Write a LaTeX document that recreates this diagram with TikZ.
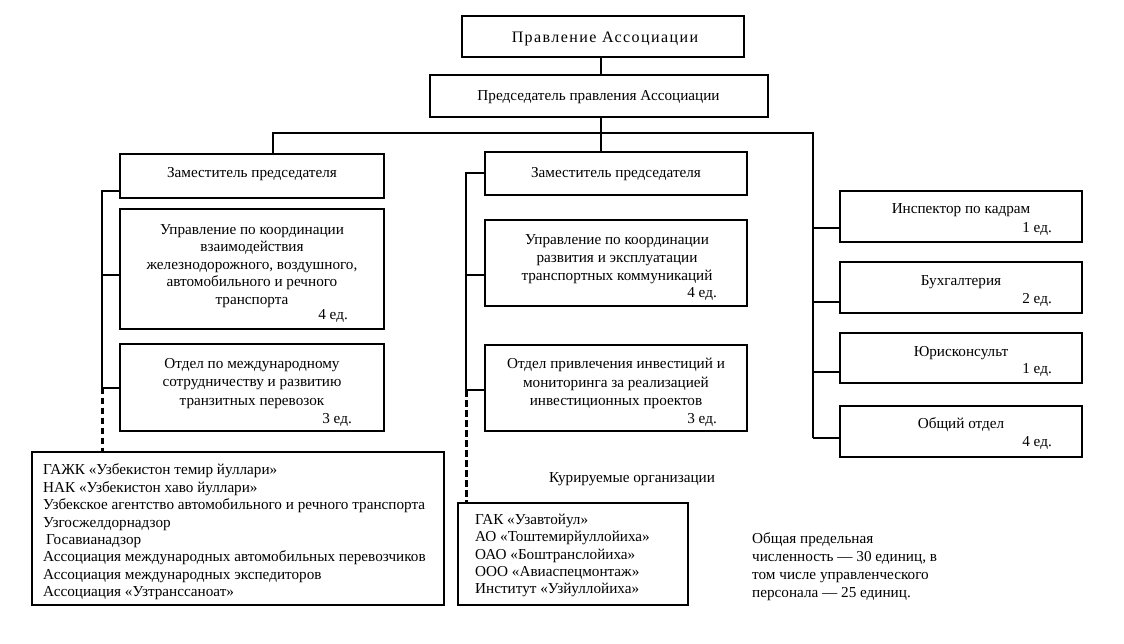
\documentclass[tikz,border=0pt]{standalone}
\usepackage{fontspec}
\setmainfont{Liberation Serif}
\begin{document}
\begin{tikzpicture}[x=1pt,y=-1pt,
  box/.style={draw,line width=2pt,inner sep=0pt,rectangle},
  conn/.style={line width=2pt},
  dconn/.style={line width=3pt,dash pattern=on 6.5pt off 3.5pt},
  txt/.style={inner sep=0pt,font=\fontsize{15.2}{17.5}\selectfont,align=center},
  ltxt/.style={inner sep=0pt,font=\fontsize{15.2}{17.4}\selectfont,align=left},
  unit/.style={inner sep=0pt,font=\fontsize{15.2}{17.5}\selectfont,anchor=east}]
\useasboundingbox (0,0) rectangle (1124,644);
\fill[white] (0,0) rectangle (1124,644);
% boxes
\node[box,minimum width=282pt,minimum height=41pt] (top) at (603,36.5) {};
\node[box,minimum width=338pt,minimum height=42pt] (chair) at (599,96) {};
\node[box,minimum width=264pt,minimum height=44pt] (ld) at (252,176) {};
\node[box,minimum width=264pt,minimum height=120pt] (l2) at (252,269) {};
\node[box,minimum width=264pt,minimum height=87pt] (l3) at (252,387.5) {};
\node[box,minimum width=262pt,minimum height=43pt] (md) at (616,173.5) {};
\node[box,minimum width=262pt,minimum height=86pt] (m2) at (616,263) {};
\node[box,minimum width=262pt,minimum height=86pt] (m3) at (616,388) {};
\node[box,minimum width=242pt,minimum height=51pt] (r1) at (961,216.5) {};
\node[box,minimum width=242pt,minimum height=51pt] (r2) at (961,287.5) {};
\node[box,minimum width=242pt,minimum height=50pt] (r3) at (961,358) {};
\node[box,minimum width=242pt,minimum height=51pt] (r4) at (961,431.5) {};
\node[box,minimum width=412pt,minimum height=153pt] (bl) at (238,528.5) {};
\node[box,minimum width=230pt,minimum height=102pt] (bm) at (573,554) {};
% texts
\node[txt,font=\fontsize{16}{18}\selectfont\addfontfeature{LetterSpace=9}] (ttop) at (605,39) {Правление Ассоциации};
\node[txt] (tchair) at (598.5,97) {Председатель правления Ассоциации};
\node[txt] (tld) at (252,174) {Заместитель председателя};
\node[txt] (tl2) at (252,266) {Управление по координации\\взаимодействия\\железнодорожного, воздушного,\\автомобильного и речного\\транспорта};
\node[unit] (ul2) at (348,316) {4 ед.};
\node[txt,font=\fontsize{15.2}{18.5}\selectfont] (tl3) at (252,383.5) {Отдел по международному\\сотрудничеству и развитию\\транзитных перевозок};
\node[unit] (ul3) at (352,420) {3 ед.};
\node[txt] (tmd) at (616,174) {Заместитель председателя};
\node[txt,font=\fontsize{15.2}{18}\selectfont] (tm2) at (617,259) {Управление по координации\\развития и эксплуатации\\транспортных коммуникаций};
\node[unit] (um2) at (717,294) {4 ед.};
\node[txt,font=\fontsize{15.2}{18.5}\selectfont] (tm3) at (616,383.5) {Отдел привлечения инвестиций и\\мониторинга за реализацией\\инвестиционных проектов};
\node[unit] (um3) at (717,420) {3 ед.};
\node[txt] (tr1) at (961,210) {Инспектор по кадрам};
\node[unit] (ur1) at (1052,229) {1 ед.};
\node[txt] (tr2) at (961,282) {Бухгалтерия};
\node[unit] (ur2) at (1052,300) {2 ед.};
\node[txt] (tr3) at (961,353) {Юрисконсульт};
\node[unit] (ur3) at (1052,370) {1 ед.};
\node[txt] (tr4) at (961,425) {Общий отдел};
\node[unit] (ur4) at (1052,443) {4 ед.};
\node[ltxt,anchor=west] (tbl) at (43,532) {ГАЖК «Узбекистон темир йуллари»\\НАК «Узбекистон хаво йуллари»\\Узбекское агентство автомобильного и речного транспорта\\Узгосжелдорнадзор\\\hspace*{3pt}Госавианадзор\\Ассоциация международных автомобильных перевозчиков\\Ассоциация международных экспедиторов\\Ассоциация «Узтранссаноат»};
\node[txt] (tkur) at (632,479) {Курируемые организации};
\node[ltxt,font=\fontsize{15.2}{17.25}\selectfont,anchor=west] (tbm) at (475,555.5) {ГАК «Узавтойул»\\АО «Тоштемирйуллойиха»\\ОАО «Боштранслойиха»\\ООО «Авиаспецмонтаж»\\Институт «Узйуллойиха»};
\node[ltxt,font=\fontsize{15.2}{18}\selectfont,anchor=west] (ttot) at (752,567) {Общая предельная\\численность — 30 единиц, в\\том числе управленческого\\персонала — 25 единиц.};
% coordinates
\coordinate (busc) at (601,133);
\coordinate (busL) at (273,133);
\coordinate (busR) at (813,133);
\coordinate (lsp) at (102,191);
\coordinate (msp) at (466,173);
\coordinate (ldb) at ([yshift=-15pt]ld.west);
\coordinate (l2b) at ([yshift=-6pt]l2.west);
\coordinate (l3b) at (l3.west);
\coordinate (mdb) at (md.west);
\coordinate (m2b) at ([yshift=-12pt]m2.west);
\coordinate (m3b) at ([yshift=-2pt]m3.west);
\coordinate (r1b) at ([yshift=-11.5pt]r1.west);
\coordinate (r2b) at ([yshift=-14.5pt]r2.west);
\coordinate (r3b) at ([yshift=-14pt]r3.west);
\coordinate (r4b) at ([yshift=-6.5pt]r4.west);
% connectors
\draw[conn] (top.south -| busc) -- (chair.north -| busc);
\draw[conn] (chair.south -| busc) -- (md.north -| busc);
\draw[conn] (ld.north -| busL) -- (busL) -- (busR) -- (r4b -| busR);
\draw[conn] (ldb) -- (ldb -| lsp) -- (l3b -| lsp);
\draw[conn] (l2b) -- (l2b -| lsp);
\draw[conn] (l3b) -- (l3b -| lsp);
\draw[dconn] (l3b -| lsp) -- (bl.north -| lsp);
\draw[conn] (mdb) -- (mdb -| msp) -- (m3b -| msp);
\draw[conn] (m2b) -- (m2b -| msp);
\draw[conn] (m3b) -- (m3b -| msp);
\draw[dconn] (m3b -| msp) -- (bm.north -| msp);
\draw[conn] (r1b) -- (r1b -| busR);
\draw[conn] (r2b) -- (r2b -| busR);
\draw[conn] (r3b) -- (r3b -| busR);
\draw[conn] (r4b) -- (r4b -| busR);
\end{tikzpicture}
\end{document}
